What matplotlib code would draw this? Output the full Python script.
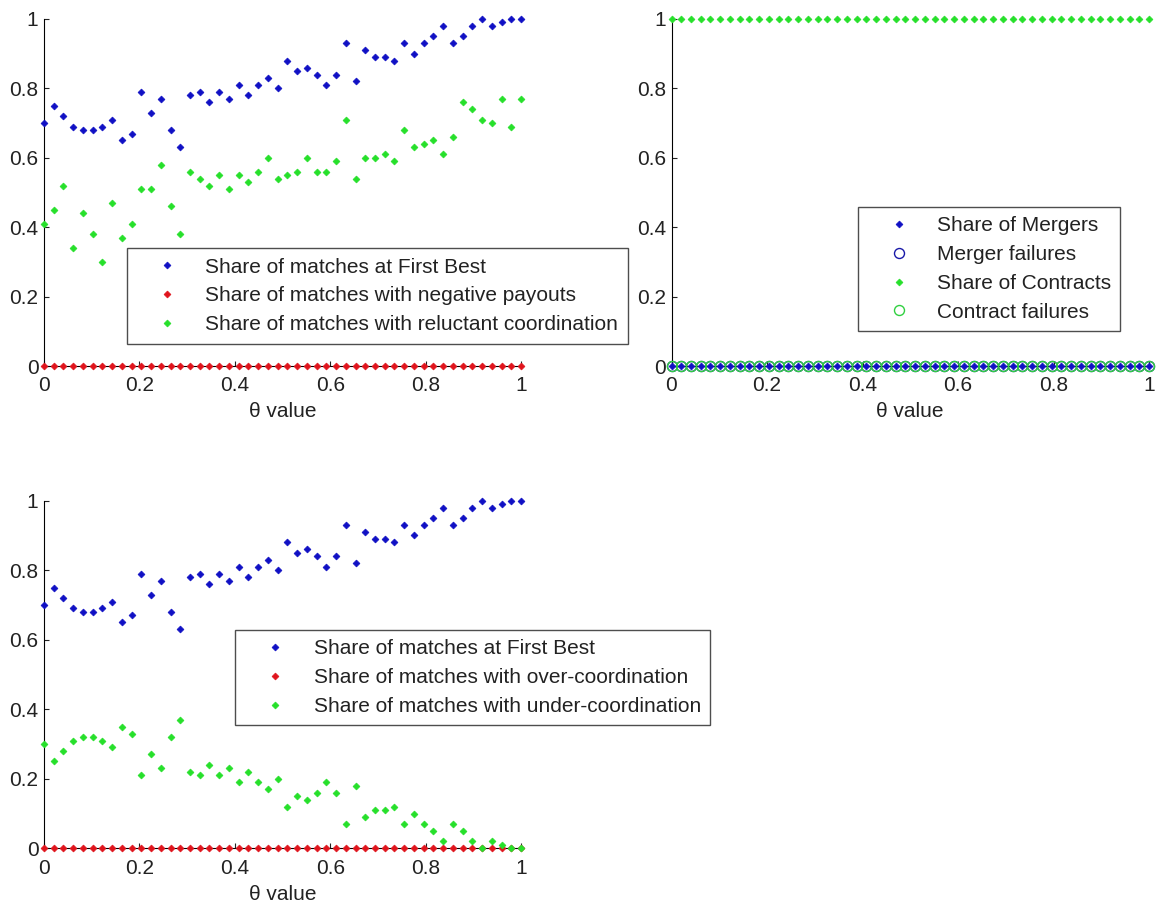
import numpy as np
import matplotlib.pyplot as plt

plt.rcParams['font.family'] = ['Liberation Sans', 'DejaVu Sans']
plt.rcParams['font.size'] = 15

theta = np.linspace(0, 1, 50)

# share of matches at the first best allocation
first_best = [0.70, 0.75, 0.72, 0.69, 0.68, 0.68, 0.69, 0.71, 0.65, 0.67,
              0.79, 0.73, 0.77, 0.68, 0.63, 0.78, 0.79, 0.76, 0.79, 0.77,
              0.81, 0.78, 0.81, 0.83, 0.80, 0.88, 0.85, 0.86, 0.84, 0.81,
              0.84, 0.93, 0.82, 0.91, 0.89, 0.89, 0.88, 0.93, 0.90, 0.93,
              0.95, 0.98, 0.93, 0.95, 0.98, 1.00, 0.98, 0.99, 1.00, 1.00]
negative_payouts = [0.0] * 50
reluctant = [0.41, 0.45, 0.52, 0.34, 0.44, 0.38, 0.30, 0.47, 0.37, 0.41,
             0.51, 0.51, 0.58, 0.46, 0.38, 0.56, 0.54, 0.52, 0.55, 0.51,
             0.55, 0.53, 0.56, 0.60, 0.54, 0.55, 0.56, 0.60, 0.56, 0.56,
             0.59, 0.71, 0.54, 0.60, 0.60, 0.61, 0.59, 0.68, 0.63, 0.64,
             0.65, 0.61, 0.66, 0.76, 0.74, 0.71, 0.70, 0.77, 0.69, 0.77]

# mergers vs contracts
merger_share = [0.0] * 50
merger_fail = [0.0] * 50
contract_share = [1.0] * 50
contract_fail = [0.0] * 50

over_coord = [0.0] * 50
under_coord = [0.30, 0.25, 0.28, 0.31, 0.32, 0.32, 0.31, 0.29, 0.35, 0.33,
               0.21, 0.27, 0.23, 0.32, 0.37, 0.22, 0.21, 0.24, 0.21, 0.23,
               0.19, 0.22, 0.19, 0.17, 0.20, 0.12, 0.15, 0.14, 0.16, 0.19,
               0.16, 0.07, 0.18, 0.09, 0.11, 0.11, 0.12, 0.07, 0.10, 0.07,
               0.05, 0.02, 0.07, 0.05, 0.02, 0.00, 0.02, 0.01, 0.00, 0.00]

BLUE = '#1010c4'
RED = '#e0141c'
GREEN = '#26e02a'
TEXT = '#222222'

W, H = 1159, 909
fig = plt.figure(figsize=(W / 100, H / 100), dpi=100)


def px_axes(left, top, right, bottom):
    return fig.add_axes([left / W, 1 - bottom / H, (right - left) / W, (bottom - top) / H])


def style(ax):
    ax.set_xlim(0, 1)
    ax.set_ylim(0, 1)
    ticks = np.arange(0, 1.01, 0.2)
    labels = ['%g' % round(v, 1) for v in ticks]
    ax.set_xticks(ticks, labels)
    ax.set_yticks(ticks, labels)
    for s in ('top', 'right'):
        ax.spines[s].set_visible(False)
    for s in ('left', 'bottom'):
        ax.spines[s].set_linewidth(0.8)
    ax.tick_params(direction='in', length=3.5, width=0.8, colors=TEXT, labelsize=15)
    ax.tick_params(axis='x', pad=7.5)
    ax.tick_params(axis='y', pad=4)
    ax.set_xlabel('θ value', fontsize=15, labelpad=5, color=TEXT)


def diamonds(ax, y, color, label, z=3):
    ax.plot(theta, y, linestyle='none', marker='D', ms=3.5, mfc=color, mec=color,
            mew=0.5, label=label, clip_on=False, zorder=z)


def add_legend(ax, cx, cy):
    leg = ax.legend(loc='center', bbox_to_anchor=(cx / W, 1 - cy / H),
                    bbox_transform=fig.transFigure, fontsize=15, frameon=True,
                    fancybox=False, edgecolor=TEXT, borderpad=0.45,
                    handlelength=3.0, handletextpad=0.33, labelspacing=0.47,
                    borderaxespad=0)
    leg.get_frame().set_linewidth(1.0)
    for t in leg.get_texts():
        t.set_color(TEXT)
    return leg


# top left
ax1 = px_axes(44, 19, 521, 366)
diamonds(ax1, first_best, BLUE, 'Share of matches at First Best')
diamonds(ax1, negative_payouts, RED, 'Share of matches with negative payouts')
diamonds(ax1, reluctant, GREEN, 'Share of matches with reluctant coordination')
style(ax1)
add_legend(ax1, 377, 296)

# top right
ax2 = px_axes(671.5, 19, 1149, 366)
diamonds(ax2, merger_share, BLUE, 'Share of Mergers', z=5)
ax2.plot(theta, merger_fail, linestyle='none', marker='o', ms=7.2, mfc='none',
         mec='#1818a8', mew=1.0, label='Merger failures', clip_on=False, zorder=3)
diamonds(ax2, contract_share, GREEN, 'Share of Contracts')
ax2.plot(theta, contract_fail, linestyle='none', marker='o', ms=7.2, mfc='none',
         mec='#30d040', mew=1.0, label='Contract failures', clip_on=False, zorder=4)
style(ax2)
add_legend(ax2, 989, 269)

# bottom left
ax3 = px_axes(44, 500.7, 521, 848.3)
diamonds(ax3, first_best, BLUE, 'Share of matches at First Best')
diamonds(ax3, over_coord, RED, 'Share of matches with over-coordination')
diamonds(ax3, under_coord, GREEN, 'Share of matches with under-coordination')
style(ax3)
add_legend(ax3, 472.5, 677.7)

fig.savefig('out.png', dpi=100)
